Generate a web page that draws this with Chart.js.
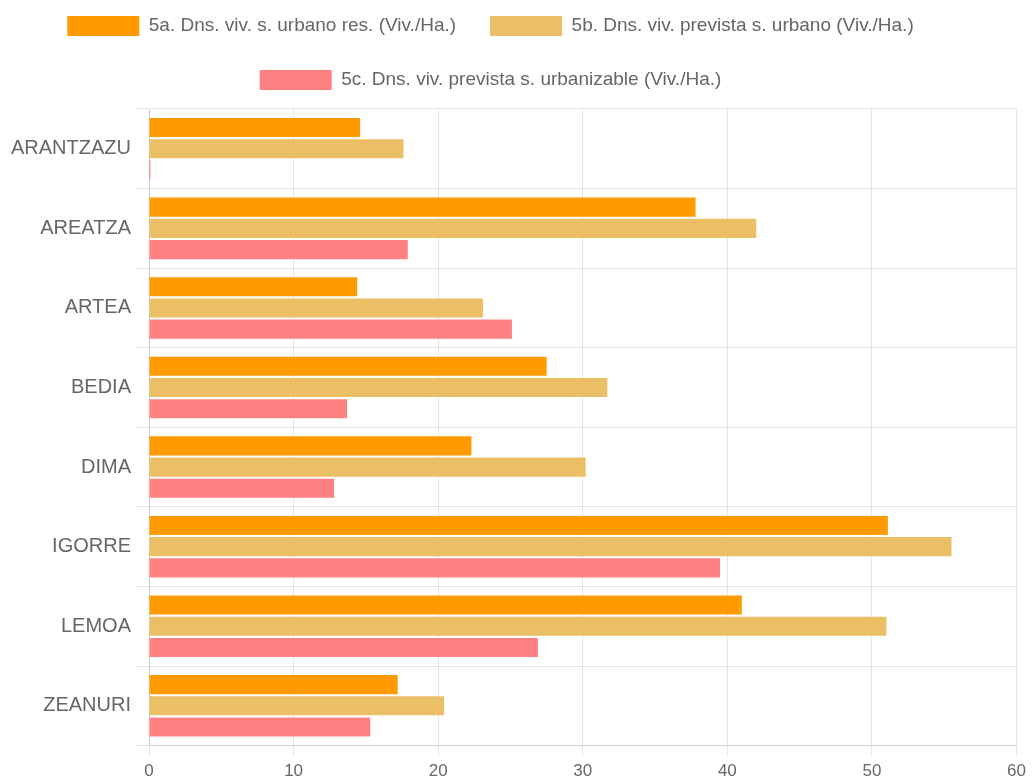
<!DOCTYPE html>
<html>
<head>
<meta charset="utf-8">
<title>Densidad de vivienda</title>
<script src="https://cdn.jsdelivr.net/npm/chart.js@4/dist/chart.umd.min.js"></script>
<style>
	html, body { margin: 0; padding: 0; background: #fff; }
	.chart-wrap { width: 1032px; height: 780px; }
</style>
</head>
<body>
<div class="chart-wrap"><canvas id="densityChart" width="1032" height="780"></canvas></div>
<script>
const municipios = ['ARANTZAZU', 'AREATZA', 'ARTEA', 'BEDIA', 'DIMA', 'IGORRE', 'LEMOA', 'ZEANURI'];
const seriesLabels = [
	'5a. Dns. viv. s. urbano res. (Viv./Ha.)',
	'5b. Dns. viv. prevista s. urbano (Viv./Ha.)',
	'5c. Dns. viv. prevista s. urbanizable (Viv./Ha.)'
];
const urbanoRes = [14.6, 37.8, 14.4, 27.5, 22.3, 51.1, 41.0, 17.2];
const urbanoPrevista = [17.6, 42.0, 23.1, 31.7, 30.2, 55.5, 51.0, 20.4];
const urbanizablePrevista = [0.1, 17.9, 25.1, 13.7, 12.8, 39.5, 26.9, 15.3];
const xTicks = [0, 10, 20, 30, 40, 50, 60];

(function () {
	const colors = ['#ff9a00', '#ebbf65', '#ff8181'];
	const fontFamily = '"Liberation Sans", Arial, sans-serif';

	// a bit more room under the legend, and legend sits slightly left of centre
	const legendTweak = {
		id: 'legendTweak',
		beforeInit(chart) {
			const fit = chart.legend.fit;
			chart.legend.fit = function () {
				fit.bind(chart.legend)();
				this.height += 9;
			};
		},
		afterLayout(chart) {
			chart.legend.left -= 22;
			chart.legend.right -= 22;
		}
	};

	function buildChart() {
		const canvas = document.getElementById('densityChart');
		if (!canvas) return;
		const ctx = canvas.getContext('2d');

		const values = [urbanoRes, urbanoPrevista, urbanizablePrevista];

		new Chart(ctx, {
			type: 'bar',
			data: {
				labels: municipios,
				datasets: values.map((data, i) => ({
					label: seriesLabels[i],
					data: data,
					backgroundColor: colors[i],
					borderWidth: 0,
					barPercentage: 0.9,
					categoryPercentage: 0.8
				}))
			},
			plugins: [legendTweak],
			options: {
				indexAxis: 'y',
				responsive: false,
				animation: false,
				layout: {
					padding: { top: -18, left: 5, right: 12, bottom: -8 }
				},
				plugins: {
					legend: {
						position: 'top',
						labels: {
							boxWidth: 72,
							boxHeight: 20,
							padding: 34,
							color: '#666',
							font: { family: fontFamily, size: 19 }
						}
					},
					tooltip: { enabled: false }
				},
				scales: {
					x: {
						min: 0,
						max: 60,
						afterBuildTicks: (axis) => {
							axis.ticks = xTicks.map(v => ({ value: v }));
						},
						grid: { color: 'rgba(0,0,0,0.1)', tickLength: 10 },
						ticks: {
							color: '#666',
							padding: 6,
							font: { family: fontFamily, size: 17 }
						}
					},
					y: {
						grid: { color: 'rgba(0,0,0,0.1)', tickLength: 12, offset: true },
						ticks: {
							color: '#666',
							padding: 6,
							font: { family: fontFamily, size: 20 }
						}
					}
				}
			}
		});
	}

	document.addEventListener('DOMContentLoaded', buildChart);
})();
</script>
</body>
</html>
